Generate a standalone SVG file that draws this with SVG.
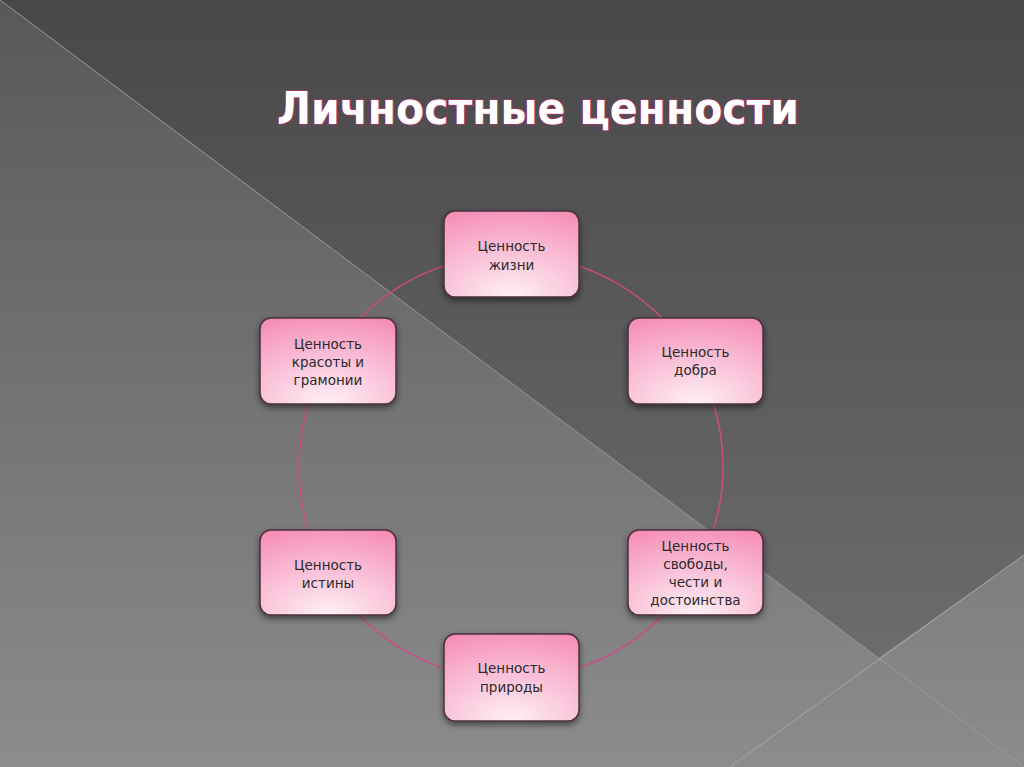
<svg xmlns="http://www.w3.org/2000/svg" width="1024" height="767" viewBox="0 0 1024 767">
<defs>
<linearGradient id="bgLow" x1="0" y1="0" x2="0" y2="1">
<stop offset="0" stop-color="#585858"/>
<stop offset="1" stop-color="#8c8c8c"/>
</linearGradient>
<linearGradient id="bgHigh" x1="0" y1="0" x2="0" y2="1">
<stop offset="0" stop-color="#484848"/>
<stop offset="1" stop-color="#6c6c6c"/>
</linearGradient>
<radialGradient id="nodeFill" cx="0.5" cy="1" r="1.1" fx="0.5" fy="1">
<stop offset="0" stop-color="#fff0f6"/>
<stop offset="0.6" stop-color="#f9b5d0"/>
<stop offset="1" stop-color="#f58ab4"/>
</radialGradient>
<filter id="sh" x="-20%" y="-20%" width="140%" height="150%">
<feDropShadow dx="0" dy="3" stdDeviation="3" flood-color="#000" flood-opacity="0.5"/>
</filter>
</defs>
<style>
.node rect{fill:url(#nodeFill);stroke:#4a3038;stroke-width:1.5;filter:url(#sh)}
.node text{font-family:"DejaVu Sans","Liberation Sans",sans-serif;font-size:13.5px;fill:#2a2a2a;text-anchor:middle}
.title{font-family:"DejaVu Sans","Noto Sans",sans-serif;font-size:44px;font-weight:bold;fill:#ffffff;stroke:#b0306a;stroke-width:1.6;paint-order:stroke;text-anchor:middle}
</style>
<rect width="1024" height="767" fill="url(#bgLow)"/>
<polygon points="0,0 1024,0 1024,555 878,658" fill="url(#bgHigh)"/>
<line x1="0" y1="0" x2="1024" y2="767" stroke="#9a9a9a" stroke-width="1"/>
<line x1="1024" y1="555" x2="730" y2="767" stroke="#a8a8a8" stroke-width="1"/>
<text class="title" x="538" y="124" textLength="522" lengthAdjust="spacingAndGlyphs">Личностные ценности</text>
<g id="connectors">
<circle cx="511" cy="467" r="212" fill="none" stroke="#d04a86" stroke-width="1.5"/>
</g>
<g id="n1" class="node"><rect x="444" y="211" width="135" height="86" rx="11"/><text x="511.5" y="251">Ценность</text><text x="511.5" y="270">жизни</text></g>
<g id="n2" class="node"><rect x="628" y="318" width="135" height="86" rx="11"/><text x="695.5" y="357">Ценность</text><text x="695.5" y="375">добра</text></g>
<g id="n3" class="node"><rect x="628" y="530" width="135" height="85" rx="11"/><text x="695.5" y="551">Ценность</text><text x="695.5" y="569">свободы,</text><text x="695.5" y="587">чести и</text><text x="695.5" y="605">достоинства</text></g>
<g id="n4" class="node"><rect x="444" y="634" width="135" height="87" rx="11"/><text x="511.5" y="673">Ценность</text><text x="511.5" y="692">природы</text></g>
<g id="n5" class="node"><rect x="260" y="530" width="136" height="85" rx="11"/><text x="328" y="570">Ценность</text><text x="328" y="588">истины</text></g>
<g id="n6" class="node"><rect x="260" y="318" width="136" height="86" rx="11"/><text x="328" y="349">Ценность</text><text x="328" y="367">красоты и</text><text x="328" y="385">грамонии</text></g>
</svg>
